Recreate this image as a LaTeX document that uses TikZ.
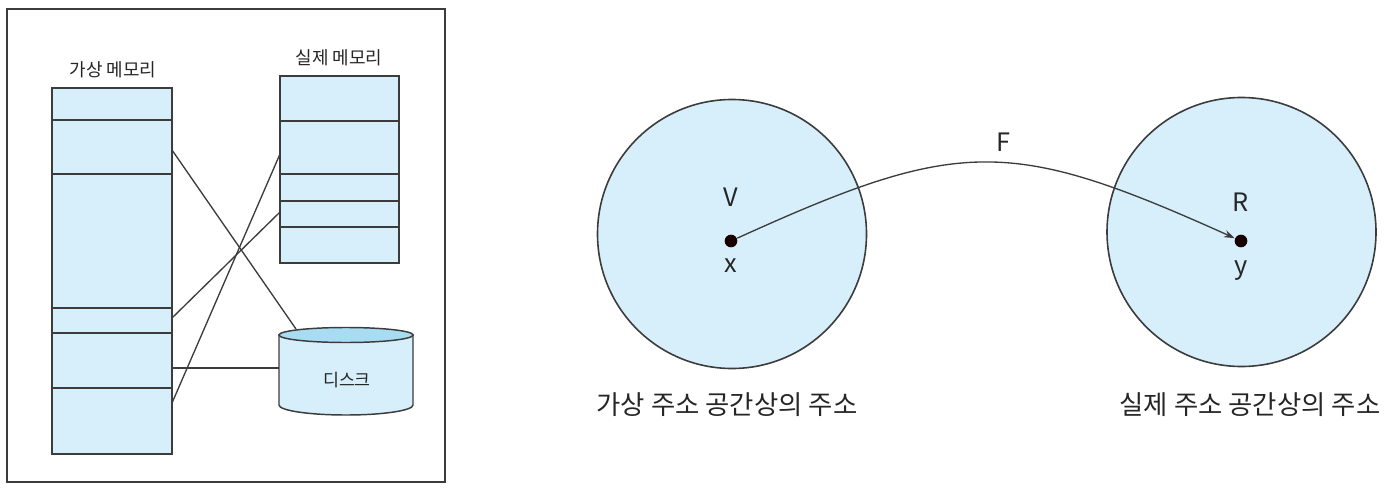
\documentclass[tikz,border=0pt]{standalone}
\usepackage{fontspec}
\setmainfont{Noto Sans CJK KR}
\usepackage{tikz}
\usetikzlibrary{arrows.meta}
\definecolor{memfill}{RGB}{214,239,250}
\definecolor{disktop}{RGB}{168,220,243}
\definecolor{edgegray}{RGB}{60,60,60}
\tikzset{every picture/.style={line width=1pt}}
\tikzset{
  membox/.style={draw=edgegray, fill=memfill, line width=1.2pt, inner sep=0pt},
  space/.style={circle, draw=edgegray, fill=memfill, line width=1.2pt, minimum size=201.75pt, inner sep=0pt},
  dot/.style={circle, fill=black!90!red, minimum size=9.5pt, inner sep=0pt},
  smalltxt/.style={font=\fontsize{13.5}{15}\selectfont, text=black!85},
  disktxt/.style={font=\fontsize{13}{15}\selectfont, text=black!85},
  bigtxt/.style={font=\fontsize{19.8}{22}\selectfont, text=black!85},
  lettertxt/.style={font=\fontsize{19}{21}\selectfont, text=black!85}
}

\begin{document}
\begin{tikzpicture}[x=0.75pt,y=0.75pt,yscale=-1,xscale=1]
		\useasboundingbox (0,0) rectangle (1398,492);
		
		%Frame
		\draw [draw=edgegray, line width=1.2pt] (7,9) rectangle (445,482);
		
		%Virtual memory
		\node [membox, minimum width=90pt, minimum height=274.5pt] (virt) at (112,271) {};
		\foreach \yy in {120,174,308,333,388}
		  \draw [draw=edgegray] (52,\yy) -- (172,\yy);
		%Real memory
		\node [membox, minimum width=89.25pt, minimum height=140.25pt] (real) at (339.5,169.5) {};
		\foreach \yy in {121,174,201,227}
		  \draw [draw=edgegray] (280,\yy) -- (399,\yy);
		%Disk
		\draw [draw=edgegray, fill=memfill, line width=1.1pt] (279,335) -- (279,405) arc [start angle=180, end angle=0, x radius=67, y radius=10] -- (413,335) -- cycle;
		\draw [draw=edgegray, fill=disktop, line width=1.1pt] (346,335) ellipse [x radius=67, y radius=7.5];
		\node [disktxt] (disklabel) at (347,380) {디스크};
		
		% Text Node
		\node [smalltxt] (virtlabel) at (113,70) {가상 메모리};
		% Text Node
		\node [smalltxt] (reallabel) at (339,58) {실제 메모리};
		
		%Mapping ends
		\coordinate (va) at (172,150);
		\coordinate (vb) at (172,318);
		\coordinate (vc) at (172,368);
		\coordinate (vd) at (172,403);
		\coordinate (ra) at (280,154);
		\coordinate (rb) at (280,212);
		\coordinate (da) at (296,329);
		\coordinate (db) at (279,368);
		\draw [draw=edgegray] (va) -- (da);
		\draw [draw=edgegray] (vb) -- (rb);
		\draw [draw=edgegray] (vd) -- (ra);
		\draw [draw=edgegray] (vc) -- (db);
		
		%Address spaces
		\node [space] (vspace) at (732,234) {};
		\node [space] (rspace) at (1241.5,232) {};
		\node [dot] (xdot) at (731,241) {};
		\node [dot] (ydot) at (1241,241) {};
		
		% Text Node
		\node [lettertxt] (vname) at (731,197) {V};
		\node [lettertxt] (xname) at (731,266) {x};
		\node [lettertxt] (rname) at (1241,202) {R};
		\node [lettertxt] (yname) at (1241,271) {y};
		\node [lettertxt] (fname) at (1003,142) {F};
		
		%Mapping F
		\draw [draw=edgegray, -{Stealth[length=8pt,width=5.5pt]}] (xdot) .. controls (960,137) and (1010,137) .. (ydot);
		
		% Text Node
		\node [bigtxt] (vcaption) at (727,405) {가상 주소 공간상의 주소};
		\node [bigtxt] (rcaption) at (1250,405) {실제 주소 공간상의 주소};
		
\end{tikzpicture}
\end{document}
